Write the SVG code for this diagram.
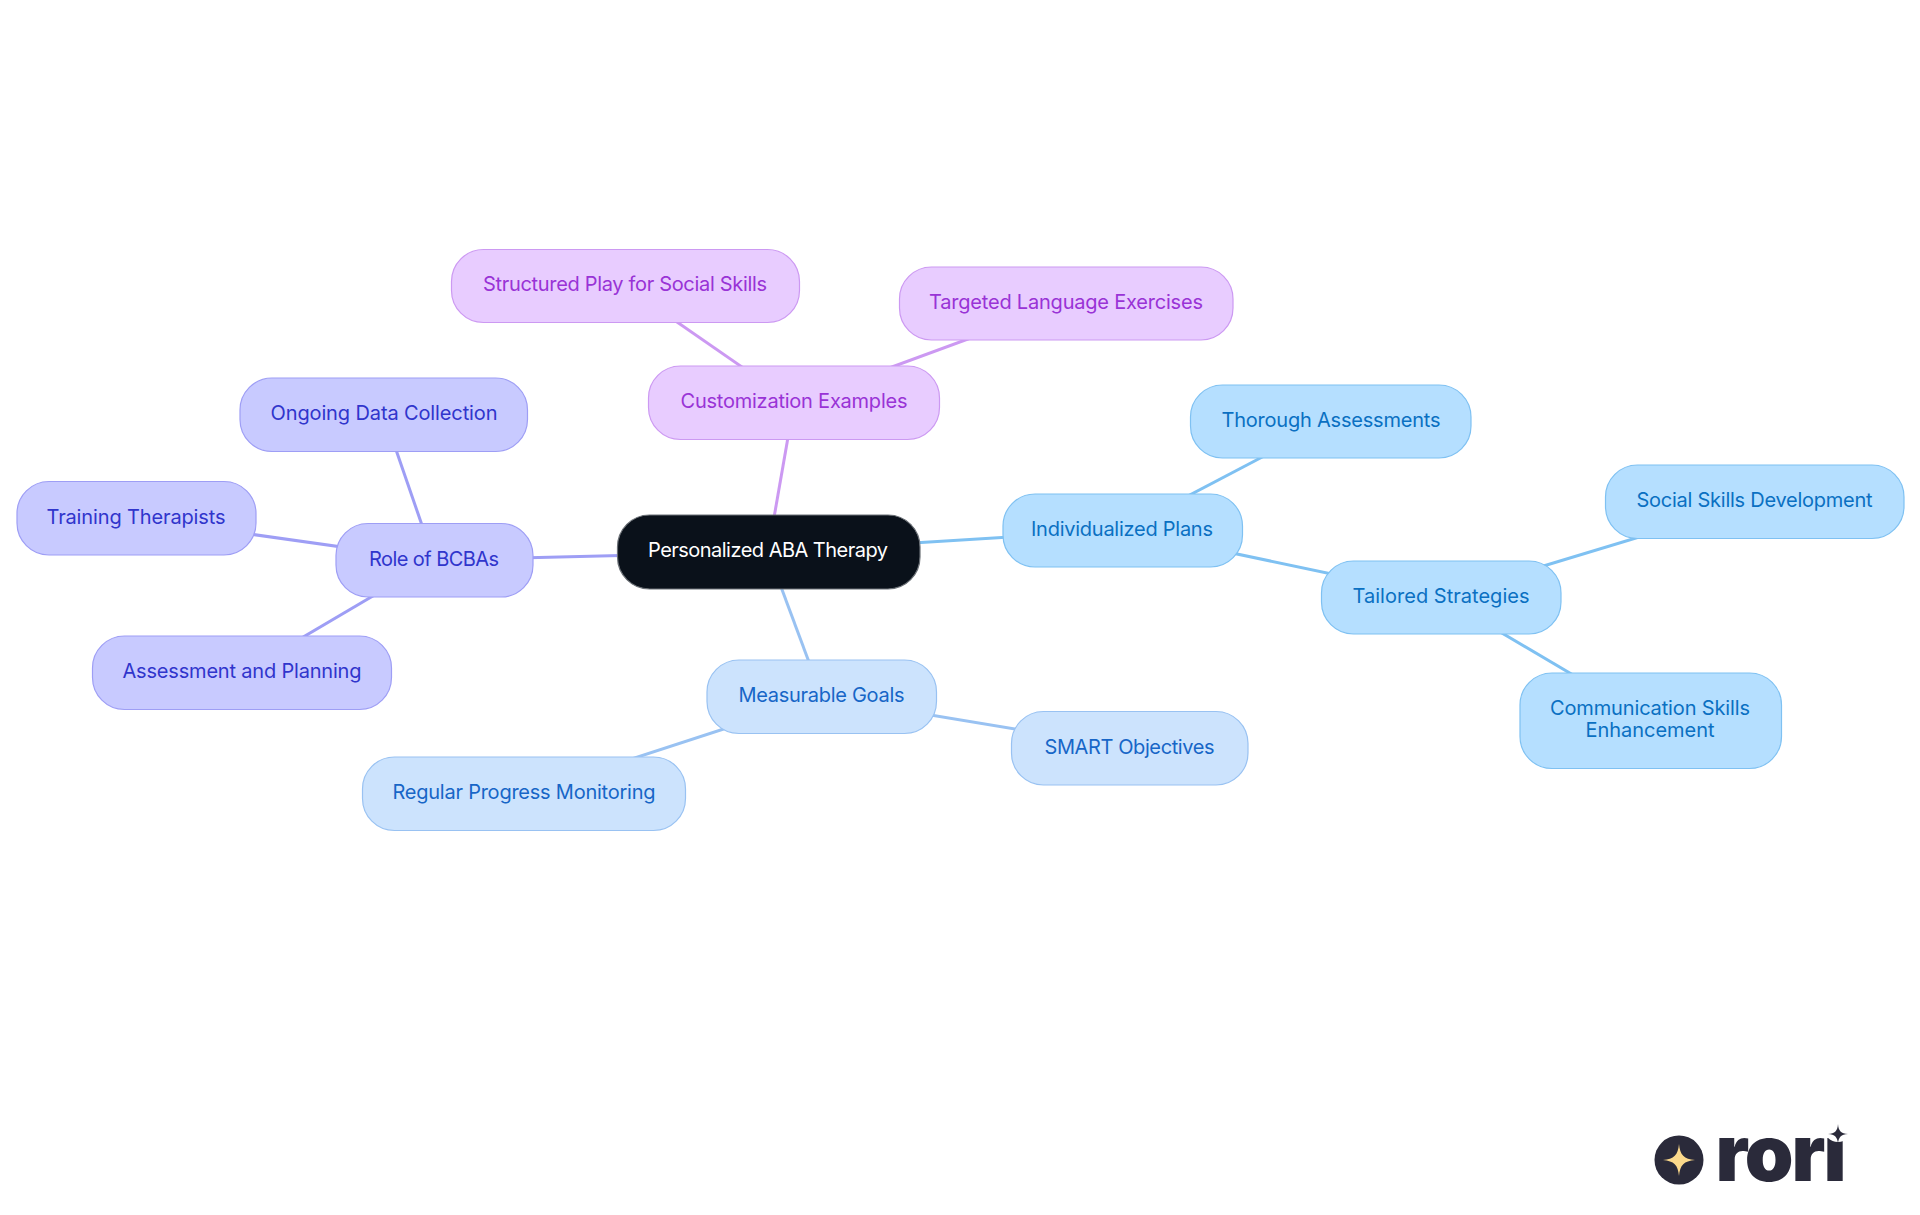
<svg xmlns="http://www.w3.org/2000/svg" width="1920" height="1215" viewBox="0 0 1920 1215">
<style>
text{font-family:"Inter","Noto Sans","Liberation Sans",sans-serif;font-size:20px;text-anchor:middle}
.n rect{stroke-width:1.2}
.l{fill:none;stroke-width:3;stroke-linecap:butt}
.sky rect{fill:#B5DFFF;stroke:#7FC1F2}.sky text{fill:#0A70C2}
.pale rect{fill:#CCE3FD;stroke:#99C2F2}.pale text{fill:#1766C7}
.ind rect{fill:#C8CAFF;stroke:#9E9EF5}.ind text{fill:#3035CC}
.pur rect{fill:#E8CCFF;stroke:#CC99F2}.pur text{fill:#9933D6}
.sky-l{stroke:#7FC1F2}.pale-l{stroke:#99C2F2}.ind-l{stroke:#9E9EF5}.pur-l{stroke:#CC99F2}
</style>
<rect width="1920" height="1215" fill="#FFFFFF"/>
<g id="connectors">
<line class="l pur-l" x1="768" y1="552" x2="794" y2="403"/>
<line class="l pur-l" x1="794" y1="403" x2="625" y2="286"/>
<line class="l pur-l" x1="794" y1="403" x2="1066" y2="303"/>
<line class="l sky-l" x1="768" y1="552" x2="1123" y2="530"/>
<line class="l sky-l" x1="1123" y1="530" x2="1331" y2="421"/>
<line class="l sky-l" x1="1123" y1="530" x2="1441" y2="597"/>
<line class="l sky-l" x1="1441" y1="597" x2="1755" y2="502"/>
<line class="l sky-l" x1="1441" y1="597" x2="1651" y2="721"/>
<line class="l pale-l" x1="768" y1="552" x2="822" y2="697"/>
<line class="l pale-l" x1="822" y1="697" x2="1129" y2="748"/>
<line class="l pale-l" x1="822" y1="697" x2="524" y2="794"/>
<line class="l ind-l" x1="768" y1="552" x2="434" y2="560"/>
<line class="l ind-l" x1="434" y1="560" x2="384" y2="415"/>
<line class="l ind-l" x1="434" y1="560" x2="136" y2="518"/>
<line class="l ind-l" x1="434" y1="560" x2="242" y2="673"/>
</g>
<g id="root" class="n"><rect x="617.500" y="515" width="302.500" height="74" rx="32" fill="#0A111A" stroke="#6B7076"/><text x="768" y="557" fill="#FFFFFF" textLength="240">Personalized ABA Therapy</text></g>
<g id="customization" class="n pur"><rect x="648.500" y="366" width="291" height="73.500" rx="32"/><text x="794" y="408" textLength="227">Customization Examples</text></g>
<g id="structured" class="n pur"><rect x="451.500" y="249.500" width="348" height="73" rx="32"/><text x="625" y="291" textLength="284">Structured Play for Social Skills</text></g>
<g id="targeted" class="n pur"><rect x="899.500" y="267" width="333.500" height="73" rx="32"/><text x="1066" y="309" textLength="274">Targeted Language Exercises</text></g>
<g id="individualized" class="n sky"><rect x="1003" y="494" width="239.500" height="73" rx="32"/><text x="1122" y="536" textLength="182">Individualized Plans</text></g>
<g id="thorough" class="n sky"><rect x="1190.500" y="385" width="280.500" height="73" rx="32"/><text x="1331" y="427" textLength="219">Thorough Assessments</text></g>
<g id="tailored" class="n sky"><rect x="1321.500" y="561" width="239.500" height="73" rx="32"/><text x="1441" y="603" textLength="177">Tailored Strategies</text></g>
<g id="social" class="n sky"><rect x="1605.500" y="465" width="298.500" height="73.500" rx="32"/><text x="1754.500" y="507" textLength="236">Social Skills Development</text></g>
<g id="communication" class="n sky"><rect x="1520" y="673" width="261.500" height="95.500" rx="32"/><text x="1650" y="715" textLength="200">Communication Skills</text><text x="1650" y="737" textLength="129">Enhancement</text></g>
<g id="measurable" class="n pale"><rect x="707" y="660" width="229.500" height="73.500" rx="32"/><text x="821.500" y="702" textLength="166">Measurable Goals</text></g>
<g id="smart" class="n pale"><rect x="1011.500" y="711.500" width="236.500" height="73.500" rx="32"/><text x="1129.500" y="754" textLength="170">SMART Objectives</text></g>
<g id="regular" class="n pale"><rect x="362.500" y="757" width="323" height="73.500" rx="32"/><text x="524" y="799" textLength="263">Regular Progress Monitoring</text></g>
<g id="bcba" class="n ind"><rect x="336" y="523.500" width="197" height="73.500" rx="32"/><text x="434" y="566" textLength="130">Role of BCBAs</text></g>
<g id="ongoing" class="n ind"><rect x="240" y="378" width="287.500" height="73.500" rx="32"/><text x="384" y="420" textLength="227">Ongoing Data Collection</text></g>
<g id="training" class="n ind"><rect x="17" y="481.500" width="239" height="73.500" rx="32"/><text x="136" y="524" textLength="179">Training Therapists</text></g>
<g id="assessment" class="n ind"><rect x="92.500" y="636" width="299" height="73.500" rx="32"/><text x="242" y="678" textLength="239">Assessment and Planning</text></g>
<g id="logo">
<circle cx="1679" cy="1160" r="24.500" fill="#2A2A3A"/>
<path d="M1679 1144C1680 1155 1684 1159 1695 1160C1684 1161 1680 1165 1679 1176C1678 1165 1674 1161 1663 1160C1674 1159 1678 1155 1679 1144Z" fill="#FBD98B"/>
<text x="1781" y="1181" style="font-size:78px;font-weight:900" fill="#2A2A3A" textLength="131">rori</text>
<circle cx="1838" cy="1128" r="14" fill="#FFFFFF"/>
<path d="M1838 1124C1838.500 1131 1841 1133.500 1848 1134C1841 1134.500 1838.500 1137 1838 1144C1837.500 1137 1835 1134.500 1828 1134C1835 1133.500 1837.500 1131 1838 1124Z" fill="#2A2A3A"/>
</g>
</svg>
